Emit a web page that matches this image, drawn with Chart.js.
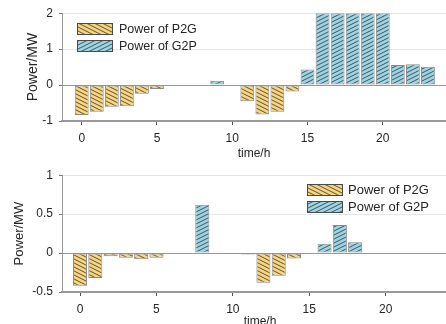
<!DOCTYPE html>
<html><head><meta charset="utf-8">
<script src="https://cdn.jsdelivr.net/npm/chart.js@4.4.0/dist/chart.umd.min.js"></script>
<style>
html,body{margin:0;padding:0;overflow:hidden;background:#fff;width:446px;height:324px;}
#w1{position:absolute;left:0;top:0;}
#w2{position:absolute;left:0;top:162px;}
canvas{display:block;}
</style></head><body>
<div id="w1"><canvas id="c1" width="446" height="162"></canvas></div>
<div id="w2"><canvas id="c2" width="458" height="172"></canvas></div>
<script>
const hours = [0,1,2,3,4,5,6,7,8,9,10,11,12,13,14,15,16,17,18,19,20,21,22,23];
const p2gTop = [-0.83,-0.74,-0.60,-0.59,-0.24,-0.11,0,0,0,0,0,-0.45,-0.82,-0.74,-0.18,0,0,0,0,0,0,0,0,0];
const g2pTop = [0,0,0,0,0,0,0,0,0,0.12,0,0,0,0,0,0.43,2,2,2,2,2,0.56,0.58,0.51];
const p2gBottom = [-0.42,-0.32,-0.04,-0.06,-0.08,-0.06,0,0,0,0,-0.01,-0.02,-0.38,-0.29,-0.07,0,0,0,0,0,0,0,0,0];
const g2pBottom = [0,0,0,0,0,0,0,0,0.62,0,0,0,0,0,0,0,0.12,0.36,0.14,0,0,0,0,0];
const xTickLabels = [0,5,10,15,20];
const yTicksTop = [-1,0,1,2];
const yTicksBottom = [-0.5,0,0.5,1];
const seriesNames = ['Power of P2G','Power of G2P'];
const xTitle = 'time/h';
const yTitle = 'Power/MW';

const FONT = '"Liberation Sans", Arial, sans-serif';
const TXT = '#262626';
const AXIS = '#999999';
const GRID = '#e6e6e6';

function hatch(bg, dir) {
  const c = document.createElement('canvas');
  c.width = 8; c.height = 4;
  const g = c.getContext('2d');
  g.fillStyle = bg; g.fillRect(0, 0, 8, 4);
  g.strokeStyle = '#2a2a2a'; g.lineWidth = 0.75;
  g.beginPath();
  for (const k of [-4, 0, 4]) {
    if (dir === 'down') { g.moveTo(0, k); g.lineTo(8, k + 4); }
    else { g.moveTo(0, k + 4); g.lineTo(8, k); }
  }
  g.stroke();
  return g.createPattern(c, 'repeat');
}

const hatchLegend = {
  id: 'hatchLegend',
  afterDatasetsDraw(chart, args, opts) {
    const {ctx, chartArea} = chart;
    ctx.save();
    chart.data.datasets.forEach((ds, i) => {
      const x = Math.round(chartArea.left + opts.dx);
      const y = Math.round(chartArea.top + opts.dy + i * opts.pitch);
      ctx.fillStyle = ds.backgroundColor;
      ctx.fillRect(x, y, 36, 12);
      ctx.strokeStyle = '#4a4a4a'; ctx.lineWidth = 1;
      ctx.strokeRect(x + 0.5, y + 0.5, 35, 11);
      ctx.fillStyle = TXT;
      ctx.font = opts.size + 'px ' + FONT;
      ctx.textBaseline = 'middle'; ctx.textAlign = 'left';
      ctx.fillText(ds.label, x + 36 + opts.gap, y + 6.5);
    });
    ctx.restore();
  }
};

function makeChart(id, p2g, g2p, cfg) {
  const toPts = arr => hours.map((h, i) => ({x: h, y: arr[i] === 0 ? null : arr[i]}));
  const common = {borderColor: '#8a8a8a', borderWidth: 1, borderSkipped: false, grouped: false, barPercentage: 0.92, categoryPercentage: 1};
  return new Chart(document.getElementById(id), {
    type: 'bar',
    data: {datasets: [
      Object.assign({label: seriesNames[0], data: toPts(p2g), backgroundColor: hatch('#F8D57E', 'down')}, common),
      Object.assign({label: seriesNames[1], data: toPts(g2p), backgroundColor: hatch('#9DD4E5', 'up')}, common)
    ]},
    options: {
      responsive: false, animation: false, devicePixelRatio: 1,
      layout: {padding: {top: cfg.padTop, left: 0, right: 0, bottom: 0}},
      plugins: {legend: {display: false}, tooltip: {enabled: false}, hatchLegend: cfg.legend},
      scales: {
        x: {
          type: 'linear', min: cfg.xmin, max: cfg.xmax, offset: false,
          afterBuildTicks: s => { s.ticks = xTickLabels.map(v => ({value: v})); },
          afterFit: s => { s.height = cfg.xh; },
          grid: {offset: false, drawOnChartArea: false, drawTicks: true, tickLength: 4, tickColor: '#555'},
          border: {display: true, color: AXIS, width: 1.5},
          ticks: {padding: 6, color: TXT, font: {family: FONT, size: 12}, maxRotation: 0, autoSkip: false, callback: v => String(v)},
          title: {display: true, text: xTitle, color: TXT, font: {family: FONT, size: 12}, padding: {top: 0, bottom: cfg.xtPad}}
        },
        y: {
          min: cfg.ymin, max: cfg.ymax,
          afterBuildTicks: s => { s.ticks = cfg.yTicks.map(v => ({value: v})); },
          afterFit: s => { s.width = 62; },
          grid: {color: c => (c.tick && (c.tick.value === 0 || c.tick.value === cfg.ymin)) ? AXIS : GRID, tickLength: 3, tickColor: '#777', drawTicks: true},
          border: {color: AXIS, width: 1},
          ticks: {padding: 6, color: TXT, font: {family: FONT, size: 12}, callback: v => String(v)},
          title: {display: true, text: yTitle, color: TXT, font: {family: FONT, size: cfg.ytSize}, padding: {top: cfg.ytPad, bottom: 0}}
        }
      }
    },
    plugins: [hatchLegend]
  });
}

makeChart('c1', p2gTop, g2pTop, {
  padTop: 9, xh: 41, xtPad: 1.5, ymin: -1, ymax: 2, yTicks: yTicksTop, ytSize: 14, ytPad: 25,
  xmin: -1.31, xmax: 24.2,
  legend: {dx: 15.3, dy: 9.7, pitch: 17.3, size: 12.5, gap: 6}
});
makeChart('c2', p2gBottom, g2pBottom, {
  padTop: 11, xh: 42, xtPad: 5, ymin: -0.5, ymax: 1, yTicks: yTicksBottom, ytSize: 13, ytPad: 12,
  xmin: -1.18, xmax: 24.73,
  legend: {dx: 244.7, dy: 8.7, pitch: 17.3, size: 13, gap: 5}
});
</script>
</body></html>
